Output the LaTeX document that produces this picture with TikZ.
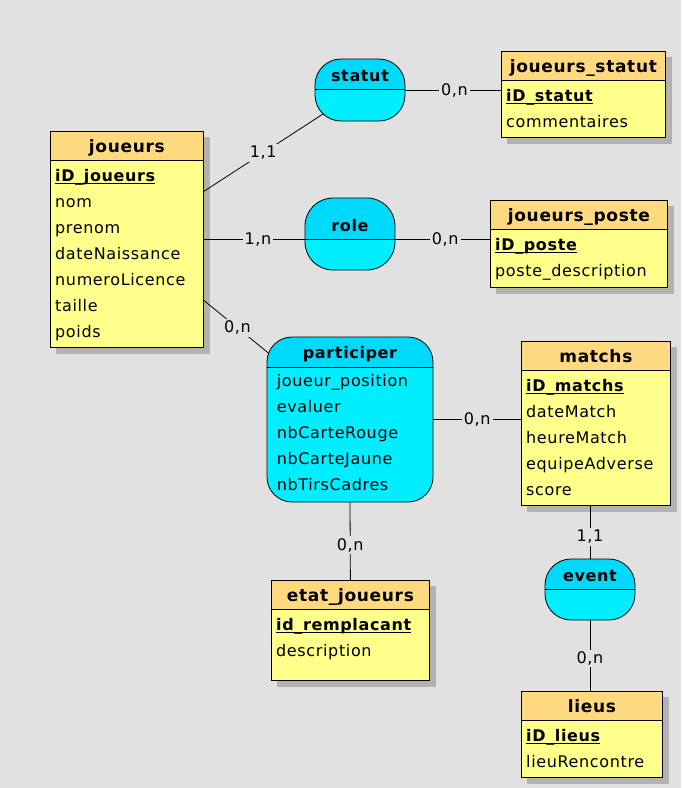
\documentclass[tikz,border=0pt]{standalone}
\usepackage{fontspec}
\setmainfont{DejaVu Sans}[LetterSpace=4]
\usepackage{xcolor}
\usetikzlibrary{positioning, calc, backgrounds}

\definecolor{fond}{RGB}{225,225,225}
\definecolor{entete}{RGB}{255,217,128}
\definecolor{corps}{RGB}{255,255,140}
\definecolor{ombre}{RGB}{178,178,178}
\definecolor{cyanhaut}{RGB}{0,218,250}
\definecolor{cyanbas}{RGB}{0,238,255}

\pgfdeclarelayer{liens}
\pgfsetlayers{background,liens,main}

\newcommand{\cle}[1]{{\setbox0=\hbox{\bfseries #1}\rlap{\rule[-2.5pt]{\wd0}{0.8pt}}\box0}}
\newcommand{\premiere}{\rule{0pt}{14pt}}

\begin{document}
\begin{tikzpicture}[
    x=1pt, y=-1pt,
    every node/.style={font=\fontsize{16}{26}\selectfont},
    entite/.style={
        draw=black,
        line width=0.8pt,
        fill=corps,
        anchor=north west,
        inner sep=0pt
    },
    titre/.style={
        draw=black,
        line width=0.8pt,
        fill=entete,
        anchor=north west,
        inner sep=0pt,
        minimum height=29pt,
        text height=16pt,
        text depth=3pt,
        font=\fontsize{17}{26}\selectfont\bfseries
    },
    champs/.style={
        anchor=north west,
        align=left,
        inner sep=0pt
    },
    asso/.style 2 args={
        draw=black,
        line width=0.8pt,
        fill=cyanbas,
        rounded corners=#1,
        inner sep=0pt,
        path picture={
            \fill[cyanhaut, sharp corners]
            (path picture bounding box.north west) rectangle
            ([yshift=-#2]path picture bounding box.north east);
            \draw[line width=0.8pt, sharp corners]
            ([yshift=-#2]path picture bounding box.north west) --
            ([yshift=-#2]path picture bounding box.north east);
        }
    },
    nomasso/.style={
        anchor=base,
        font=\fontsize{16}{26}\selectfont\bfseries
    },
    lien/.style={
        draw=black,
        line width=0.8pt
    },
    card/.style={
        fill=fond,
        inner sep=2pt
    }
]

\useasboundingbox (0,0) rectangle (681,788);

\begin{pgfonlayer}{background}
\fill[fond] (0,0) rectangle (681,788);
\end{pgfonlayer}

% ============================================================
% ENTITES
% ============================================================

% joueurs
\node[entite, minimum width=153pt, minimum height=216pt] (joueurs) at (50,131) {};
\node[titre, minimum width=153pt] (joueurs-titre) at (joueurs.north west) {joueurs};
\node[champs] (joueurs-champs) at ($(joueurs-titre.south west)+(5,6)$)
{\premiere\cle{iD\_joueurs}\\nom\\prenom\\dateNaissance\\numeroLicence\\taille\\poids};

% joueurs_statut
\node[entite, minimum width=164pt, minimum height=86pt] (statuts) at (501,51) {};
\node[titre, minimum width=164pt] (statuts-titre) at (statuts.north west) {joueurs\_statut};
\node[champs] (statuts-champs) at ($(statuts-titre.south west)+(5,6)$)
{\premiere\cle{iD\_statut}\\commentaires};

% joueurs_poste
\node[entite, minimum width=177pt, minimum height=87pt] (postes) at (490,200) {};
\node[titre, minimum width=177pt] (postes-titre) at (postes.north west) {joueurs\_poste};
\node[champs] (postes-champs) at ($(postes-titre.south west)+(5,6)$)
{\premiere\cle{iD\_poste}\\poste\_description};

% matchs
\node[entite, minimum width=149pt, minimum height=164pt] (matchs) at (521,341) {};
\node[titre, minimum width=149pt] (matchs-titre) at (matchs.north west) {matchs};
\node[champs] (matchs-champs) at ($(matchs-titre.south west)+(5,6)$)
{\premiere\cle{iD\_matchs}\\dateMatch\\heureMatch\\equipeAdverse\\score};

% etat_joueurs
\node[entite, minimum width=158pt, minimum height=100pt] (etat) at (271,580) {};
\node[titre, minimum width=158pt] (etat-titre) at (etat.north west) {etat\_joueurs};
\node[champs] (etat-champs) at ($(etat-titre.south west)+(5,6)$)
{\premiere\cle{id\_remplacant}\\description};

% lieus
\node[entite, minimum width=141pt, minimum height=86pt] (lieus) at (521,691) {};
\node[titre, minimum width=141pt] (lieus-titre) at (lieus.north west) {lieus};
\node[champs] (lieus-champs) at ($(lieus-titre.south west)+(5,6)$)
{\premiere\cle{iD\_lieus}\\lieuRencontre};

% ombres des entites (sous les liens)
\begin{pgfonlayer}{background}
\fill[ombre] ([shift={(6,6)}]joueurs.north west) rectangle ([shift={(6,6)}]joueurs.south east);
\fill[ombre] ([shift={(6,6)}]statuts.north west) rectangle ([shift={(6,6)}]statuts.south east);
\fill[ombre] ([shift={(6,6)}]postes.north west) rectangle ([shift={(6,6)}]postes.south east);
\fill[ombre] ([shift={(6,6)}]matchs.north west) rectangle ([shift={(6,6)}]matchs.south east);
\fill[ombre] ([shift={(6,6)}]etat.north west) rectangle ([shift={(6,6)}]etat.south east);
\fill[ombre] ([shift={(6,6)}]lieus.north west) rectangle ([shift={(6,6)}]lieus.south east);
\end{pgfonlayer}

% ============================================================
% ASSOCIATIONS
% ============================================================

\node[asso={26pt}{30pt}, minimum width=90pt, minimum height=62pt] (statut) at (360,90) {};
\node[nomasso] at ($(statut.north)+(0,23)$) {statut};

\node[asso={28pt}{41pt}, minimum width=90pt, minimum height=72pt] (role) at (350,234) {};
\node[nomasso] at ($(role.north)+(0,34)$) {role};

\node[asso={25pt}{30pt}, minimum width=166pt, minimum height=165pt] (participer) at (350,419.5) {};
\node[nomasso] at ($(participer.north)+(0,22)$) {participer};
\node[champs] (participer-champs) at ($(participer.north west)+(10,36)$)
{\premiere joueur\_position\\evaluer\\nbCarteRouge\\nbCarteJaune\\nbTirsCadres};

\node[asso={26pt}{30pt}, minimum width=90pt, minimum height=61pt] (event) at (590,589.5) {};
\node[nomasso] at ($(event.north)+(0,23)$) {event};

% ============================================================
% LIENS
% ============================================================

\begin{pgfonlayer}{liens}
\draw[lien] ([yshift=48pt]joueurs.east) -- node[card, pos=0.38] {1,1} (statut.center);
\draw[lien] (statut.center) -- node[card, pos=0.67] {0,n} (statut.center -| statuts.west);
\draw[lien] (joueurs.east) -- node[card, pos=0.37] {1,n} (joueurs.east -| role.center);
\draw[lien] ([yshift=-5pt]role.center) -- node[card, pos=0.68] {0,n} ([yshift=-5pt]role.center -| postes.west);
\draw[lien] ([yshift=-61pt]joueurs.east) -- node[card, pos=0.23] {0,n} (participer.center);
\draw[lien] (participer.east) -- node[card, pos=0.5] {0,n} (participer.east -| matchs.west);
\draw[lien] (participer.south) -- node[card, pos=0.55] {0,n} (etat.north);
\draw[lien] (event.center |- matchs.south) -- node[card, pos=0.37] {1,1} (event.center);
\draw[lien] (event.center) -- node[card, pos=0.68] {0,n} (event.center |- lieus.north);
\end{pgfonlayer}

\end{tikzpicture}
\end{document}
